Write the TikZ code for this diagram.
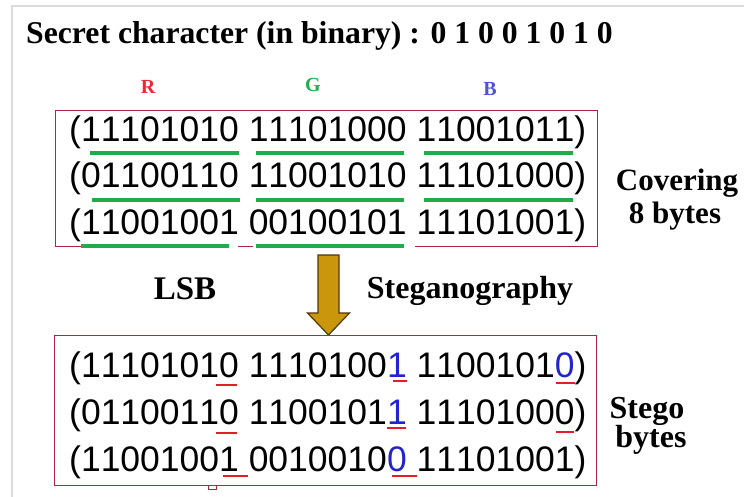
\documentclass[tikz,border=0pt]{standalone}
\usepackage{fontspec}
\usetikzlibrary{calc}
\setmainfont{Liberation Serif}
\newfontfamily\digitfont[Kerning=Off]{Liberation Sans}
\definecolor{boxred}{RGB}{176,38,66}
\definecolor{lsbgreen}{RGB}{34,172,72}
\definecolor{markred}{RGB}{228,30,40}
\definecolor{bitblue}{RGB}{36,36,205}
\definecolor{labR}{RGB}{240,40,50}
\definecolor{labG}{RGB}{30,175,80}
\definecolor{labB}{RGB}{80,80,220}
\definecolor{arrowfill}{RGB}{201,150,12}
\definecolor{arrowline}{RGB}{80,55,5}
\definecolor{framegray}{RGB}{220,220,220}
\tikzset{
  bytesrow/.style={anchor=base west, inner sep=0pt,
    font=\digitfont\fontsize{35.5}{40}\selectfont},
  boldlabel/.style={anchor=base, inner sep=0pt,
    font=\bfseries\fontsize{32}{36}\selectfont},
  rgblabel/.style={anchor=base, inner sep=0pt,
    font=\bfseries\fontsize{20}{24}\selectfont},
  bytebox/.style={draw=boxred, line width=1.3pt, anchor=north west,
    inner sep=0pt},
  greenbar/.style={draw=lsbgreen, line width=4pt},
  redmark/.style={draw=markred, line width=1.5pt},
  gap/.style={draw=white, line width=2.5pt},
}
\newcommand{\bb}[1]{\textcolor{bitblue}{#1}}
\begin{document}
\begin{tikzpicture}[x=1pt, y=-1pt]
\useasboundingbox (0,0) rectangle (744,497);
% light page frame
\draw[framegray, line width=2pt] (744,6) -- (12,6) -- (12,497);

% heading
\node[anchor=base west, inner sep=0pt, font=\bfseries\fontsize{31.7}{36}\selectfont]
  (title) at (26,44) {Secret character (in binary) : 0 1 0 0 1 0 1 0};

% channel labels
\node[rgblabel, text=labR] (labR) at (148,94) {R};
\node[rgblabel, text=labG] (labG) at (313,92) {G};
\node[rgblabel, text=labB] (labB) at (490,96) {B};

% cover bytes
\node[bytebox, minimum width=542pt, minimum height=136pt] (cover) at (55,110) {};
\draw[gap] (229,246) -- (238,246);
\draw[gap] (253,246) -- (256,246);
\draw[gap] (404,246) -- (415,246);
\node[bytesrow] (c1) at (69,142) {(11101010 11101000 11001011)};
\node[bytesrow] (c2) at (69,188) {(01100110 11001010 11101000)};
\node[bytesrow] (c3) at (69,234) {(11001001 00100101 11101001)};
% bytes used for the eight secret bits
\draw[greenbar] (90,153) -- (239,153);
\draw[greenbar] (256,153) -- (404,153);
\draw[greenbar] (424,153) -- (573,153);
\draw[greenbar] (92,200) -- (240,200);
\draw[greenbar] (256,200) -- (404,200);
\draw[greenbar] (424,200) -- (573,200);
\draw[greenbar] (81,246) -- (229,246);
\draw[greenbar] (256,246) -- (404,246);

\node[boldlabel, font=\bfseries\fontsize{31}{36}\selectfont] (cov1) at (677,191) {Covering};
\node[boldlabel, font=\bfseries\fontsize{31}{36}\selectfont] (cov2) at (675,223) {8 bytes};

% embedding step
\node[boldlabel, font=\bfseries\fontsize{33}{36}\selectfont] (lsb) at (185,299) {LSB};
\node[boldlabel] (steg) at (470,298) {Steganography};
\coordinate (atop) at (328.5,255);
\coordinate (atip) at (328.5,335);
\draw[fill=arrowfill, draw=arrowline, line width=1.2pt, line join=miter]
  ($(atop)+(-10.5,0)$) -- ($(atop)+(10.5,0)$) -- ($(atip)+(10.5,-22)$)
  -- ($(atip)+(21,-22)$) -- (atip) -- ($(atip)+(-21,-22)$)
  -- ($(atip)+(-10.5,-22)$) -- cycle;

% stego bytes
\node[bytebox, minimum width=542pt, minimum height=150pt] (stego) at (54,335) {};
\draw[draw=boxred, line width=1pt] (208,485) -- (208,489) -- (216,489) -- (216,485);
\node[bytesrow] (s1) at (69,377) {(11101010 1110100\bb{1} 1100101\bb{0})};
\node[bytesrow] (s2) at (69,424) {(01100110 1100101\bb{1} 11101000)};
\node[bytesrow] (s3) at (69,471) {(11001001 0010010\bb{0} 11101001)};
% changed / checked least significant bits
\draw[redmark] (216,385) -- (237,385);
\draw[redmark] (393,381) -- (407,381);
\draw[redmark] (556,383) -- (575,383);
\draw[redmark] (216,433) -- (237,433);
\draw[redmark] (387,428) -- (406,428);
\draw[redmark] (556,432) -- (574,432);
\draw[redmark] (223,476) -- (248,476);
\draw[redmark] (392,476) -- (417,476);

\node[boldlabel] (st1) at (647,418) {Stego};
\node[boldlabel] (st2) at (651,447) {bytes};
\end{tikzpicture}
\end{document}
